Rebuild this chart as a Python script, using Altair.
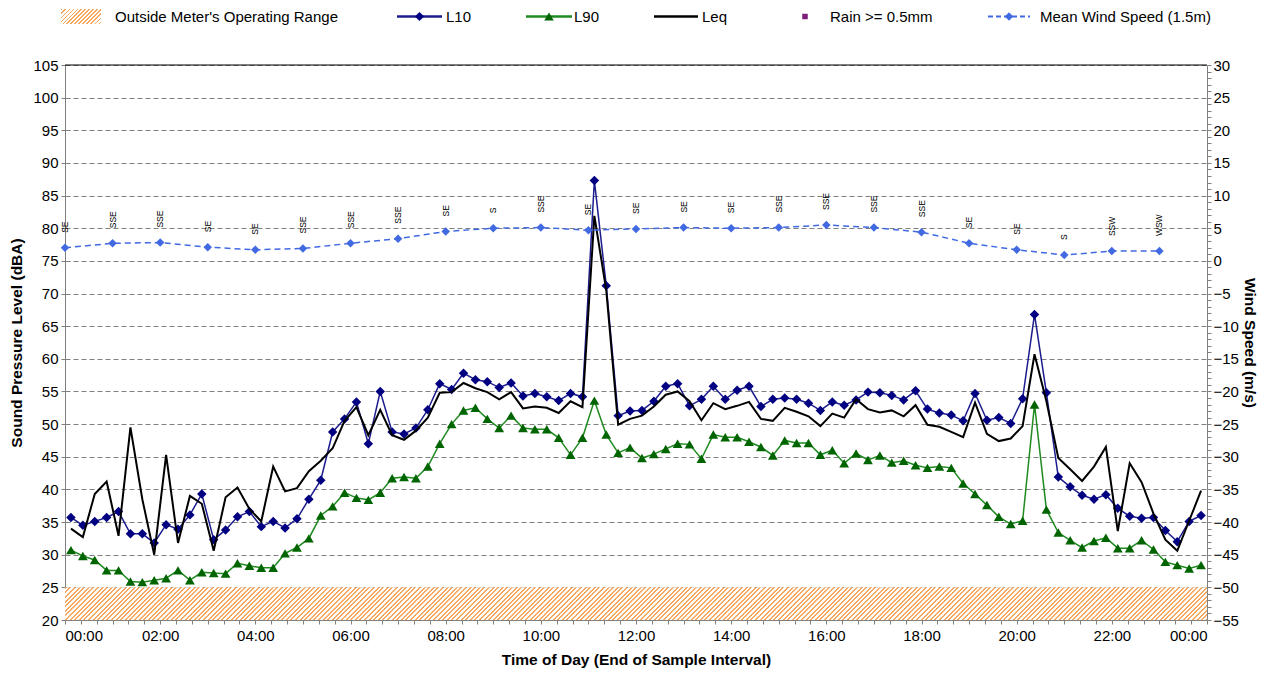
import altair as alt
import pandas as pd

# ---------------- data ----------------
L10 = [35.7, 34.5, 35.1, 35.7, 36.6, 33.2, 33.2, 31.8, 34.6, 33.9, 36.1, 39.3,
       32.3, 33.8, 35.8, 36.6, 34.3, 35.1, 34.1, 35.5, 38.5, 41.4, 48.8, 50.8,
       53.4, 47.0, 55.0, 48.8, 48.5, 49.4, 52.2, 56.2, 55.3, 57.8, 56.8, 56.5,
       55.6, 56.3, 54.3, 54.7, 54.2, 53.6, 54.7, 54.2, 87.3, 71.2, 51.3, 52.0,
       52.1, 53.5, 55.8, 56.2, 52.8, 53.8, 55.8, 53.8, 55.2, 55.8, 52.7, 53.8,
       54.0, 53.8, 53.2, 52.1, 53.4, 52.9, 53.7, 54.9, 54.8, 54.4, 53.7, 55.1,
       52.3, 51.7, 51.4, 50.5, 54.7, 50.6, 51.0, 50.1, 53.9, 66.8, 54.8, 41.9,
       40.4, 39.1, 38.5, 39.2, 37.1, 35.9, 35.6, 35.7, 33.7, 32.0, 35.1, 36.0]

L90 = [30.7, 29.8, 29.2, 27.6, 27.6, 25.9, 25.8, 26.1, 26.4, 27.6, 26.1, 27.3,
       27.2, 27.1, 28.7, 28.3, 28.0, 28.0, 30.2, 31.1, 32.5, 36.0, 37.4, 39.5,
       38.7, 38.4, 39.5, 41.7, 41.9, 41.7, 43.5, 47.0, 50.0, 52.1, 52.5, 50.8,
       49.4, 51.3, 49.4, 49.2, 49.2, 47.9, 45.3, 47.9, 53.6, 48.4, 45.6, 46.4,
       44.8, 45.4, 46.2, 47.0, 46.9, 44.7, 48.4, 48.0, 48.0, 47.3, 46.5, 45.2,
       47.5, 47.1, 47.1, 45.3, 46.0, 44.0, 45.5, 44.5, 45.2, 44.1, 44.4, 43.7,
       43.3, 43.5, 43.3, 40.9, 39.3, 37.6, 35.8, 34.7, 35.2, 53.0, 36.9, 33.4,
       32.2, 31.1, 32.1, 32.6, 31.0, 31.0, 32.2, 30.8, 28.9, 28.4, 27.9, 28.4]

LEQ = [34.0, 32.7, 39.3, 41.2, 32.9, 49.5, 38.5, 30.0, 45.3, 31.8, 39.0, 37.8,
       30.6, 38.8, 40.3, 37.0, 35.1, 43.5, 39.7, 40.2, 42.8, 44.4, 46.3, 50.5,
       52.6, 48.3, 52.2, 48.3, 47.6, 49.0, 51.0, 54.8, 54.9, 56.3, 55.5, 54.9,
       53.8, 54.9, 52.4, 52.7, 52.5, 51.7, 53.5, 52.6, 81.9, 70.5, 49.9, 50.8,
       51.3, 52.7, 54.5, 55.0, 53.5, 50.6, 53.2, 52.3, 52.8, 53.4, 50.8, 50.5,
       52.5, 51.9, 51.2, 49.7, 51.6, 51.0, 53.8, 52.3, 51.8, 52.1, 51.2, 52.9,
       49.9, 49.6, 48.8, 48.0, 53.3, 48.5, 47.4, 47.8, 49.7, 60.7, 53.5, 44.8,
       43.1, 41.3, 43.5, 46.5, 33.6, 44.0, 41.1, 36.3, 32.3, 30.6, 35.2, 39.8]

WIND_HOURS = list(range(24))
WIND_SPEED = [2.0, 2.7, 2.8, 2.1, 1.7, 1.9, 2.7, 3.4, 4.5, 5.0, 5.1, 4.7,
              4.9, 5.1, 5.0, 5.1, 5.5, 5.1, 4.4, 2.7, 1.7, 0.9, 1.5, 1.5]
WIND_DIR = ["SE", "SSE", "SSE", "SE", "SE", "SSE", "SSE", "SSE", "SE", "S", "SSE", "SE",
            "SE", "SE", "SE", "SSE", "SSE", "SSE", "SSE", "SE", "SE", "S", "SSW", "WSW"]

SAMPLE_MINUTES = 15
DAY_MINUTES = 1440
Y_MIN, Y_MAX = 20, 105
W_MIN, W_MAX = -55, 30
METER_RANGE_MIN = 25

# ---------------- layout / style ----------------
W, H = 1142, 555
FONT = "Liberation Sans"
GRID = "#808080"
C_L10_LINE, C_L10_PT = "#1c1c8e", "#000080"
C_L90_LINE, C_L90_PT = "#1f8a1f", "#006400"
C_WIND = "#4169E1"
C_HATCH = "#F9A862"

minutes = [SAMPLE_MINUTES * (i + 0.5) for i in range(len(L10))]
noise = pd.DataFrame({"t": minutes, "L10": L10, "L90": L90, "Leq": LEQ})
wind = pd.DataFrame({"t": [h * 60 for h in WIND_HOURS], "speed": WIND_SPEED, "dir": WIND_DIR})
one = pd.DataFrame({"a": [0]})


def hatch(w, h, period=4.6, frac=0.42):
    k = h / w
    a = 1 + k
    step = period / (a * w * (1 + k * k))
    stops = []
    s = 0.0
    while s < 1.0:
        e1 = min(s + step * frac, 1.0)
        e2 = min(s + step, 1.0)
        stops += [alt.GradientStop(offset=round(s, 6), color=C_HATCH),
                  alt.GradientStop(offset=round(e1, 6), color=C_HATCH),
                  alt.GradientStop(offset=round(e1, 6), color="#ffffff"),
                  alt.GradientStop(offset=round(e2, 6), color="#ffffff")]
        s += step
    return alt.LinearGradient(gradient="linear", stops=stops, x1=0, y1=0, x2=a, y2=a * k)


x_ticks = list(range(0, DAY_MINUTES + 1, 20))
x_label = ("datum.value % 120 === 0 ? ((floor(datum.value/60) % 24 < 10 ? '0' : '') + "
           "(floor(datum.value/60) % 24) + ':00') : ''")
X = alt.X("t:Q", scale=alt.Scale(domain=[0, DAY_MINUTES], nice=False, zero=False),
          axis=alt.Axis(values=x_ticks, labelExpr=x_label, grid=False,
                        title="Time of Day (End of Sample Interval)",
                        tickSize=4, labelPadding=4, titlePadding=9))

yscale = alt.Scale(domain=[Y_MIN, Y_MAX], nice=False, zero=False)
left_axis = alt.Axis(values=list(range(Y_MIN, Y_MAX + 1, 5)), grid=True, gridDash=[5, 3],
                     gridColor=GRID, tickSize=4, labelPadding=3, titlePadding=8,
                     title="Sound Pressure Level (dBA)")
wscale = alt.Scale(domain=[W_MIN, W_MAX], nice=False, zero=False)
right_axis = alt.Axis(orient="right", values=list(range(W_MIN, W_MAX + 1)),
                      labelExpr="datum.value % 5 === 0 ? datum.label : ''",
                      grid=False, tickSize=4, labelPadding=2, titlePadding=3,
                      title="Wind Speed (m/s)")


def yf(field):
    return alt.Y(field, scale=yscale, axis=left_axis)


base = alt.Chart(noise)

band = alt.Chart(one).mark_rect(fill=hatch(W, H * (METER_RANGE_MIN - Y_MIN) / (Y_MAX - Y_MIN)),
                                strokeWidth=0).encode(
    x=alt.value(0), x2=alt.value(W),
    y=alt.YDatum(Y_MIN, type="quantitative", scale=yscale, axis=left_axis),
    y2=alt.Y2Datum(METER_RANGE_MIN))

top_rule = alt.Chart(one).mark_rule(color="black", strokeWidth=1).encode(
    x=alt.value(0), x2=alt.value(W),
    y=alt.YDatum(Y_MAX, type="quantitative", scale=yscale, axis=left_axis))

l10_line = base.mark_line(color=C_L10_LINE, strokeWidth=1.5).encode(x=X, y=yf("L10:Q"))
l10_pts = base.mark_point(shape="diamond", filled=True, size=90, color=C_L10_PT, opacity=1).encode(
    x=X, y=yf("L10:Q"))
l90_line = base.mark_line(color=C_L90_LINE, strokeWidth=1.5).encode(x=X, y=yf("L90:Q"))
l90_pts = base.mark_point(shape="triangle-up", filled=True, size=95, color=C_L90_PT, opacity=1).encode(
    x=X, y=yf("L90:Q"))
leq_line = base.mark_line(color="black", strokeWidth=2).encode(x=X, y=yf("Leq:Q"))

# ---------------- legend (pixel positions relative to plot origin) ----------------
LY = -48.5
legend_font = dict(font=FONT, fontSize=15, align="left", baseline="middle", color="black")


def ltext(px, label):
    return alt.Chart(one).mark_text(text=label, **legend_font).encode(x=alt.value(px), y=alt.value(LY))


def lrule(x1, x2, color, width=2.5, dash=None):
    kw = dict(color=color, strokeWidth=width)
    if dash:
        kw["strokeDash"] = dash
    return alt.Chart(one).mark_rule(**kw).encode(x=alt.value(x1), x2=alt.value(x2), y=alt.value(LY))


def lpoint(px, shape, color, size):
    return alt.Chart(one).mark_point(shape=shape, filled=True, size=size, color=color, opacity=1).encode(
        x=alt.value(px), y=alt.value(LY))


legend = [
    alt.Chart(one).mark_rect(fill=hatch(40, 15, period=4.0), strokeWidth=0).encode(
        x=alt.value(-4), x2=alt.value(36), y=alt.value(LY - 7.5), y2=alt.value(LY + 7.5)),
    ltext(50, "Outside Meter's Operating Range"),
    lrule(332, 377, C_L10_LINE), lpoint(354.5, "diamond", C_L10_PT, 85), ltext(381, "L10"),
    lrule(461, 507, C_L90_LINE), lpoint(484, "triangle-up", C_L90_PT, 90), ltext(509, "L90"),
    lrule(589, 633, "black"), ltext(637, "Leq"),
    lpoint(740, "square", "#7B1F7B", 30), ltext(765, "Rain >= 0.5mm"),
    lrule(923, 965, C_WIND, width=2, dash=[5, 3]), lpoint(944, "diamond", C_WIND, 70),
    ltext(975, "Mean Wind Speed (1.5m)"),
]

left_group = alt.layer(band, top_rule, l10_line, l10_pts, l90_line, l90_pts, leq_line, *legend)

wbase = alt.Chart(wind)
wy = alt.Y("speed:Q", scale=wscale, axis=right_axis)
wind_line = wbase.mark_line(color=C_WIND, strokeWidth=1.5, strokeDash=[6, 4]).encode(x=X, y=wy)
wind_pts = wbase.mark_point(shape="diamond", filled=True, size=72, color=C_WIND, opacity=1).encode(x=X, y=wy)
wind_txt = wbase.mark_text(angle=270, align="left", baseline="middle", dx=15, fontSize=8.5,
                           font=FONT, color="black").encode(x=X, y=wy, text="dir:N")
right_group = alt.layer(wind_line, wind_pts, wind_txt)

chart = alt.layer(left_group, right_group).resolve_scale(y="independent").properties(
    width=W, height=H,
    padding={"left": 57, "top": 57, "right": 57, "bottom": 52},
    autosize=alt.AutoSizeParams(type="none"),
).configure_view(stroke=None).configure_axis(
    labelFont=FONT, labelFontSize=15, labelColor="black",
    titleFont=FONT, titleFontSize=15.5, titleFontWeight="bold", titleColor="black",
    domainColor=GRID, tickColor=GRID, domainWidth=1,
)

chart.save("out.html", embed_options={"renderer": "svg", "actions": False})
